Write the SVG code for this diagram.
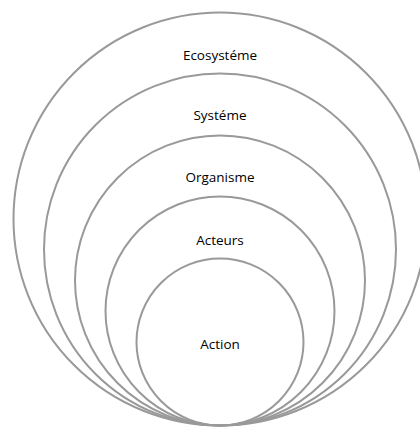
<svg xmlns="http://www.w3.org/2000/svg" width="420" height="428" viewBox="0 0 420 428">
<style>
.c{fill:none;stroke:#999999;stroke-width:2}
.t{font-family:"Open Sans","Liberation Sans",sans-serif;font-size:13.5px;fill:#000000;text-anchor:middle}
</style>
<rect width="420" height="428" fill="#ffffff"/>
<g id="ecosysteme"><circle class="c" cx="220" cy="219" r="206.5"/><text class="t" x="220" y="59.5">Ecosystéme</text></g>
<g id="systeme"><circle class="c" cx="220" cy="249.5" r="176"/><text class="t" x="220" y="120">Systéme</text></g>
<g id="organisme"><circle class="c" cx="220" cy="280.5" r="145"/><text class="t" x="220" y="182">Organisme</text></g>
<g id="acteurs"><circle class="c" cx="220" cy="311" r="114.5"/><text class="t" x="220" y="244.5">Acteurs</text></g>
<g id="action"><circle class="c" cx="220" cy="342" r="83.5"/><text class="t" x="220" y="348.5">Action</text></g>
<g id="connectors"/>
</svg>
